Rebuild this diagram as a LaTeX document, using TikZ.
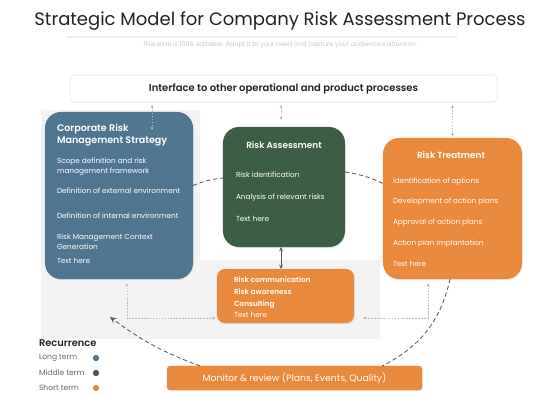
\documentclass[tikz,border=0pt]{standalone}
\usepackage{fontspec}
\setmainfont{Poppins}[BoldFont={Poppins SemiBold}]
\usetikzlibrary{positioning,calc,arrows.meta,shadows}

\definecolor{riskblue}{RGB}{79,118,145}
\definecolor{riskgreen}{RGB}{59,94,68}
\definecolor{riskorange}{RGB}{232,137,62}
\definecolor{riskgray}{RGB}{242,242,242}
\definecolor{risktext}{RGB}{34,34,34}

\begin{document}
\begin{tikzpicture}[x=0.025cm,y=-0.025cm,
        every node/.style = {inner sep=0pt,outer sep=0pt},
        riskbox/.style = {rounded corners=0.4cm,drop shadow={opacity=0.2,shadow xshift=0.4pt,shadow yshift=-0.8pt}},
        boxtitle/.style = {text=white,font=\fontsize{6.3}{8}\selectfont\bfseries},
        boxlist/.style = {text=white,align=left,anchor=north west,font=\fontsize{5.2}{7.1}\selectfont},
        link/.style = {gray!55,line width=0.4pt,dash pattern=on 1.2pt off 0.9pt,{Stealth[length=2.4pt,width=2.2pt]}-{Stealth[length=2.4pt,width=2.2pt]}},
        loopline/.style = {black!65,line width=0.6pt,dash pattern=on 3pt off 2pt},
        legendtext/.style = {anchor=west,text=black!60,font=\fontsize{5.4}{6}\selectfont},
        legenddot/.style = {circle,minimum size=4.5pt},
        ]
        \useasboundingbox (0,0) rectangle (560,420);
        % grey backdrop
        \fill[riskgray] (41,110) -| (200,260) -| (380,339) -| (41,110) -- cycle;

        \node (text-title) at (280,21) [text=risktext,font=\fontsize{12.8}{15}\selectfont] {Strategic Model for Company Risk Assessment Process};
        \draw[gray!15,line width=0.8pt] (67,37) -- (457,37);
        \node (text-sub) at (280,45) [text=gray!45,font=\fontsize{4.5}{5}\selectfont] {This slide is 100\% editable. Adapt it to your need and capture your audience's attention.};

        \node (box-interface) at (283.5,88.5) [draw=gray!20,fill=white,rounded corners=3pt,minimum width=10.675cm,minimum height=0.675cm,
            drop shadow={opacity=0.12,shadow xshift=0.3pt,shadow yshift=-0.6pt},text=risktext,font=\fontsize{7.1}{9}\selectfont\bfseries]
            {Interface to other operational and product processes};

        % the three main boxes
        \node (box-strategy) at (119,195.5) [riskbox,fill=riskblue,minimum width=3.7cm,minimum height=4.175cm] {};
        \node (title-strategy) at (57,124) [boxtitle,align=left,anchor=north west,font=\fontsize{6.8}{8.8}\selectfont\bfseries] {Corporate Risk\\Management Strategy};
        \node (list-strategy) at (57,158) [boxlist]
            {Scope definition and risk\\management framework\\[7pt]
             Definition of external environment\\[10.7pt]
             Definition of internal environment\\[7.8pt]
             Risk Management Context\\Generation\\[2.8pt]
             Text here};

        \node (box-assess) at (284,187) [riskbox,fill=riskgreen,minimum width=3.05cm,minimum height=3cm] {};
        \node (title-assess) at (284,145) [boxtitle] {Risk Assessment};
        \node (list-assess) at (236,172) [boxlist]
            {Risk identification\\[8.5pt]
             Analysis of relevant risks\\[8.5pt]
             Text here};

        \node (box-treat) at (452.5,208.5) [riskbox,fill=riskorange,minimum width=3.475cm,minimum height=3.525cm] {};
        \node (title-treat) at (451,155) [boxtitle] {Risk Treatment};
        \node (list-treat) at (393,177.5) [boxlist]
            {Identification of options\\[7.7pt]
             Development of action plans\\[7.7pt]
             Approval of action plans\\[7.7pt]
             Action plan implantation\\[7.7pt]
             Text here};

        \node (box-comm) at (285.5,296) [riskbox,rounded corners=0.2cm,fill=riskorange,minimum width=3.425cm,minimum height=1.35cm] {};
        \node (list-comm) at (234,277) [boxlist,font=\fontsize{5.2}{8.3}\selectfont]
            {\textbf{Risk communication}\\
             \textbf{Risk awareness}\\
             \textbf{Consulting}\\
             Text here};

        \node (box-monitor) at (294.5,378) [riskbox,rounded corners=2pt,fill=riskorange,minimum width=6.375cm,minimum height=0.6cm,
            text=white,font=\fontsize{6.6}{8}\selectfont] {Monitor \& review (Plans, Events, Quality)};

        % links to the interface
        \draw[link,shorten <=2pt] ([xshift=0.825cm]box-strategy.north |- box-interface.south) -- ([xshift=0.825cm,yshift=-0.45cm]box-strategy.north);
        \draw[link,shorten <=2pt,shorten >=5pt] ([xshift=-0.075cm]box-assess.north |- box-interface.south) -- ([xshift=-0.075cm]box-assess.north);
        \draw[link,shorten <=2pt,shorten >=1pt] (box-treat.north |- box-interface.south) -- (box-treat.north);
        \draw[black!65,line width=0.5pt,{Stealth[length=3pt,width=2.6pt]}-{Stealth[length=3pt,width=2.6pt]}] ([xshift=-0.075cm]box-assess.south) -- ([xshift=-0.075cm]box-assess.south |- box-comm.north);
        \draw[link,shorten <=1pt,shorten >=3pt] ([yshift=-0.55cm]box-comm.west) -| ([xshift=0.2cm]box-strategy.south);
        \draw[link,shorten <=6.4pt,shorten >=3pt] ([yshift=-0.55cm]box-comm.east) -| ([xshift=-0.61cm]box-treat.south);

        % review loop
        \coordinate (loop-end) at (110,317);
        \draw[loopline] ([yshift=0.25cm]box-strategy.east) to[bend left=8] ([yshift=0.225cm]box-assess.west);
        \draw[loopline] ([yshift=0.375cm]box-assess.east) to[bend left=8] ([yshift=0.625cm]box-treat.west);
        \draw[loopline] ([xshift=-0.06cm]box-treat.south) to[bend left=25] ([xshift=2.19cm]box-monitor.north);
        \draw[loopline,-{Stealth[length=4.5pt,width=4pt]}] ([xshift=-2.36cm]box-monitor.north) to[bend left=8] (loop-end);

        % legend
        \node (legend-title) at (39,343) [anchor=west,text=risktext,font=\fontsize{7}{8}\selectfont\bfseries] {Recurrence};
        \node (legend-long) at (39,358) [legendtext] {Long term};
        \node (legend-middle) at (39,373) [legendtext] {Middle term};
        \node (legend-short) at (39,388) [legendtext] {Short term};
        \node (dot-long) at (96,358) [legenddot,fill=riskblue] {};
        \node (dot-middle) at (96,373) [legenddot,fill=riskgreen] {};
        \node (dot-short) at (96,388) [legenddot,fill=riskorange] {};
    \end{tikzpicture}
\end{document}
